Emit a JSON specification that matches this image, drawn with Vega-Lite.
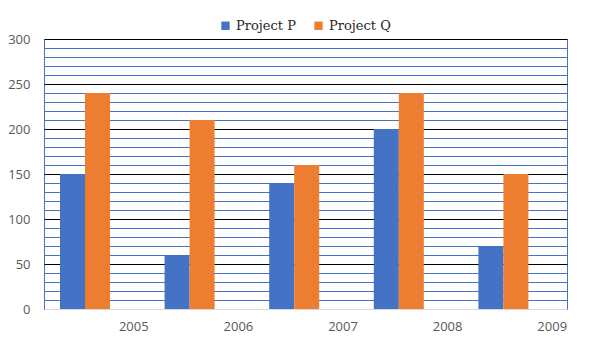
{
  "$schema": "https://vega.github.io/schema/vega-lite/v6.json",
  "width": 523,
  "height": 270,
  "autosize": {"type": "none"},
  "padding": {"left": 44, "top": 39, "right": 42, "bottom": 42},
  "background": "white",
  "data": {
    "values": [
      {"year": "2005", "series": "Project P", "value": 150},
      {"year": "2005", "series": "Project Q", "value": 240},
      {"year": "2006", "series": "Project P", "value": 60},
      {"year": "2006", "series": "Project Q", "value": 210},
      {"year": "2007", "series": "Project P", "value": 140},
      {"year": "2007", "series": "Project Q", "value": 160},
      {"year": "2008", "series": "Project P", "value": 200},
      {"year": "2008", "series": "Project Q", "value": 240},
      {"year": "2009", "series": "Project P", "value": 70},
      {"year": "2009", "series": "Project Q", "value": 150}
    ]
  },
  "mark": {"type": "bar"},
  "encoding": {
    "x": {
      "field": "year",
      "type": "nominal",
      "scale": {"paddingInner": 0.306, "paddingOuter": 0.153},
      "axis": {
        "title": null,
        "labelAngle": 0,
        "labelOffset": 37.5,
        "labelPadding": 11,
        "ticks": false,
        "domainColor": "#D9D9D9",
        "labelFont": "Open Sans",
        "labelFontSize": 13,
        "labelColor": "#595959"
      }
    },
    "xOffset": {
      "field": "series",
      "type": "nominal",
      "scale": {"paddingInner": 0, "paddingOuter": 0.452, "align": 0}
    },
    "y": {
      "field": "value",
      "type": "quantitative",
      "scale": {"domain": [0, 300], "nice": false},
      "axis": {
        "title": null,
        "values": [0,10,20,30,40,50,60,70,80,90,100,110,120,130,140,150,160,170,180,190,200,210,220,230,240,250,260,270,280,290,300],
        "labelExpr": "datum.value % 50 === 0 ? datum.label : ''",
        "ticks": false,
        "domain": false,
        "labelPadding": 14,
        "labelFont": "Open Sans",
        "labelFontSize": 13,
        "labelColor": "#595959",
        "gridColor": {"condition": {"test": "datum.value % 50 === 0", "value": "#000000"}, "value": "#4472C4"},
        "gridOpacity": 1,
        "gridWidth": 1
      }
    },
    "color": {
      "field": "series",
      "type": "nominal",
      "scale": {"domain": ["Project P", "Project Q"], "range": ["#4472C4", "#ED7D31"]},
      "legend": {
        "title": null,
        "orient": "none",
        "direction": "horizontal",
        "legendX": 175,
        "legendY": -20,
        "symbolType": "square",
        "symbolSize": 70,
        "symbolStrokeWidth": 0,
        "labelFont": "DejaVu Serif",
        "labelFontSize": 13,
        "labelColor": "#262626",
        "columnPadding": 16,
        "labelOffset": 4
      }
    }
  },
  "config": {
    "view": {"stroke": "#4472C4", "strokeWidth": 1}
  }
}
